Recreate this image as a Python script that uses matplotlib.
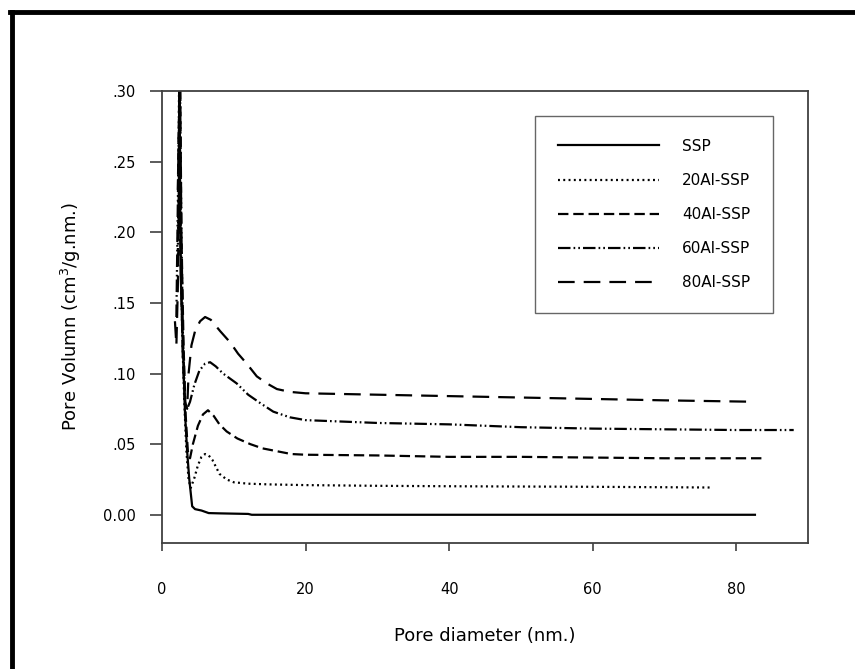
import matplotlib
matplotlib.use("Agg")
import matplotlib.pyplot as plt
from matplotlib.lines import Line2D

# данные (диаметр пор, нм / объём пор)
ssp_x = [2.3, 2.45, 2.5, 2.6, 2.9, 3.2, 3.5, 3.8, 4.2, 4.6, 5.5, 6.5, 8.0, 12.0, 12.5, 20, 30, 40, 50, 60, 70, 82.6]
ssp_y = [0.20, 0.32, 0.25, 0.17, 0.12, 0.072, 0.045, 0.025, 0.006, 0.004, 0.003, 0.0012, 0.001, 0.0006, 0.0, 0.0, 0.0, 0.0, 0.0, 0.0, 0.0, 0.0]

al20_x = [2.2, 2.4, 2.6, 2.8, 3.1, 3.4, 3.7, 4.0, 4.5, 5.0, 5.5, 6.0, 6.5, 7.0, 7.5, 8.0, 9.0, 10.0, 12.0, 15.0, 20, 30, 40, 50, 60, 70, 76.4]
al20_y = [0.18, 0.32, 0.21, 0.13, 0.08, 0.045, 0.025, 0.019, 0.026, 0.035, 0.041, 0.043, 0.042, 0.039, 0.034, 0.029, 0.025, 0.023, 0.022, 0.0215, 0.021, 0.0205, 0.0202, 0.020, 0.0198, 0.0195, 0.0193]

al40_x = [2.2, 2.5, 2.7, 3.0, 3.3, 3.6, 3.9, 4.3, 5.0, 5.7, 6.4, 7.2, 8.0, 9.0, 10.5, 12.3, 14.0, 16.0, 18.0, 20, 30, 40, 50, 60, 70, 83.5]
al40_y = [0.23, 0.33, 0.20, 0.12, 0.07, 0.045, 0.040, 0.050, 0.063, 0.071, 0.074, 0.070, 0.064, 0.059, 0.054, 0.050, 0.047, 0.045, 0.043, 0.0425, 0.042, 0.041, 0.041, 0.0405, 0.040, 0.040]

al60_x = [2.0, 2.3, 2.5, 2.7, 2.9, 3.2, 3.5, 3.9, 4.5, 5.2, 6.0, 6.7, 7.5, 8.5, 10.4, 12.0, 13.7, 15.5, 17.8, 20, 25, 30, 40, 50, 60, 70, 80, 88]
al60_y = [0.14, 0.26, 0.31, 0.20, 0.13, 0.078, 0.075, 0.080, 0.092, 0.102, 0.107, 0.108, 0.105, 0.100, 0.093, 0.085, 0.079, 0.073, 0.069, 0.067, 0.066, 0.065, 0.064, 0.062, 0.061, 0.0605, 0.060, 0.060]

al80_x = [1.8, 2.0, 2.2, 2.4, 2.6, 2.9, 3.2, 3.5, 3.7, 4.1, 4.6, 5.3, 6.0, 6.8, 8.1, 9.5, 10.6, 11.8, 13.2, 14.6, 16.0, 17.8, 20, 30, 40, 50, 60, 70, 82.6]
al80_y = [0.137, 0.12, 0.16, 0.24, 0.18, 0.11, 0.08, 0.075, 0.10, 0.12, 0.13, 0.137, 0.140, 0.138, 0.130, 0.122, 0.114, 0.107, 0.098, 0.093, 0.089, 0.087, 0.086, 0.085, 0.084, 0.083, 0.082, 0.081, 0.080]

names = ["SSP", "20Al-SSP", "40Al-SSP", "60Al-SSP", "80Al-SSP"]
xticks = [0, 20, 40, 60, 80]
yticks = [0.00, 0.05, 0.10, 0.15, 0.20, 0.25, 0.30]
ytick_labels = ["0.00", ".05", ".10", ".15", ".20", ".25", ".30"]

plt.rcParams["lines.scale_dashes"] = False
plt.rcParams["font.family"] = "DejaVu Sans"

styles = [
    "-",
    (0, (1.4, 2.4)),
    (0, (7.5, 3.5)),
    (0, (9, 2.2, 1.2, 2.2, 1.2, 2.2)),
    (0, (12, 6.5)),
]

fig = plt.figure(figsize=(8.55, 6.69), dpi=100)
ax = fig.add_axes([0.1895, 0.1883, 0.7556, 0.6757])

series = [(ssp_x, ssp_y), (al20_x, al20_y), (al40_x, al40_y), (al60_x, al60_y), (al80_x, al80_y)]
for (xs, ys), name, ls in zip(series, names, styles):
    ax.plot(xs, ys, color="black", lw=1.6, linestyle=ls, label=name)

ax.set_xlim(0, 90)
ax.set_ylim(-0.02, 0.30)
ax.set_xticks(xticks)
ax.set_yticks(yticks)
ax.set_yticklabels(ytick_labels)
ax.tick_params(axis="x", direction="out", length=6, width=1.2, color="#404040", pad=22, labelsize=10.5)
ax.tick_params(axis="y", direction="out", length=9, width=1.2, color="#404040", pad=10, labelsize=10.5)
for sp in ax.spines.values():
    sp.set_color("#404040")
    sp.set_linewidth(1.3)

ax.set_xlabel("Pore diameter (nm.)", fontsize=13, labelpad=22)
ax.set_ylabel("Pore Volumn (cm$^3$/g.nm.)", fontsize=13, labelpad=14)

leg = ax.legend(loc="upper left", bbox_to_anchor=(0.578, 0.945), frameon=True, fancybox=False,
                fontsize=11, handlelength=6.6, handletextpad=1.5, labelspacing=1.25,
                borderpad=1.5, borderaxespad=0)
leg.get_frame().set_edgecolor("#404040")
leg.get_frame().set_linewidth(1.0)

# внешняя рамка (видны только левая и верхняя стороны)
fig.add_artist(Line2D([0.0135, 0.0135], [0.982, 0.0], transform=fig.transFigure, color="black", lw=3.5))
fig.add_artist(Line2D([0.0115, 1.0], [0.982, 0.982], transform=fig.transFigure, color="black", lw=3.5))

fig.savefig("out.png", dpi=100)
